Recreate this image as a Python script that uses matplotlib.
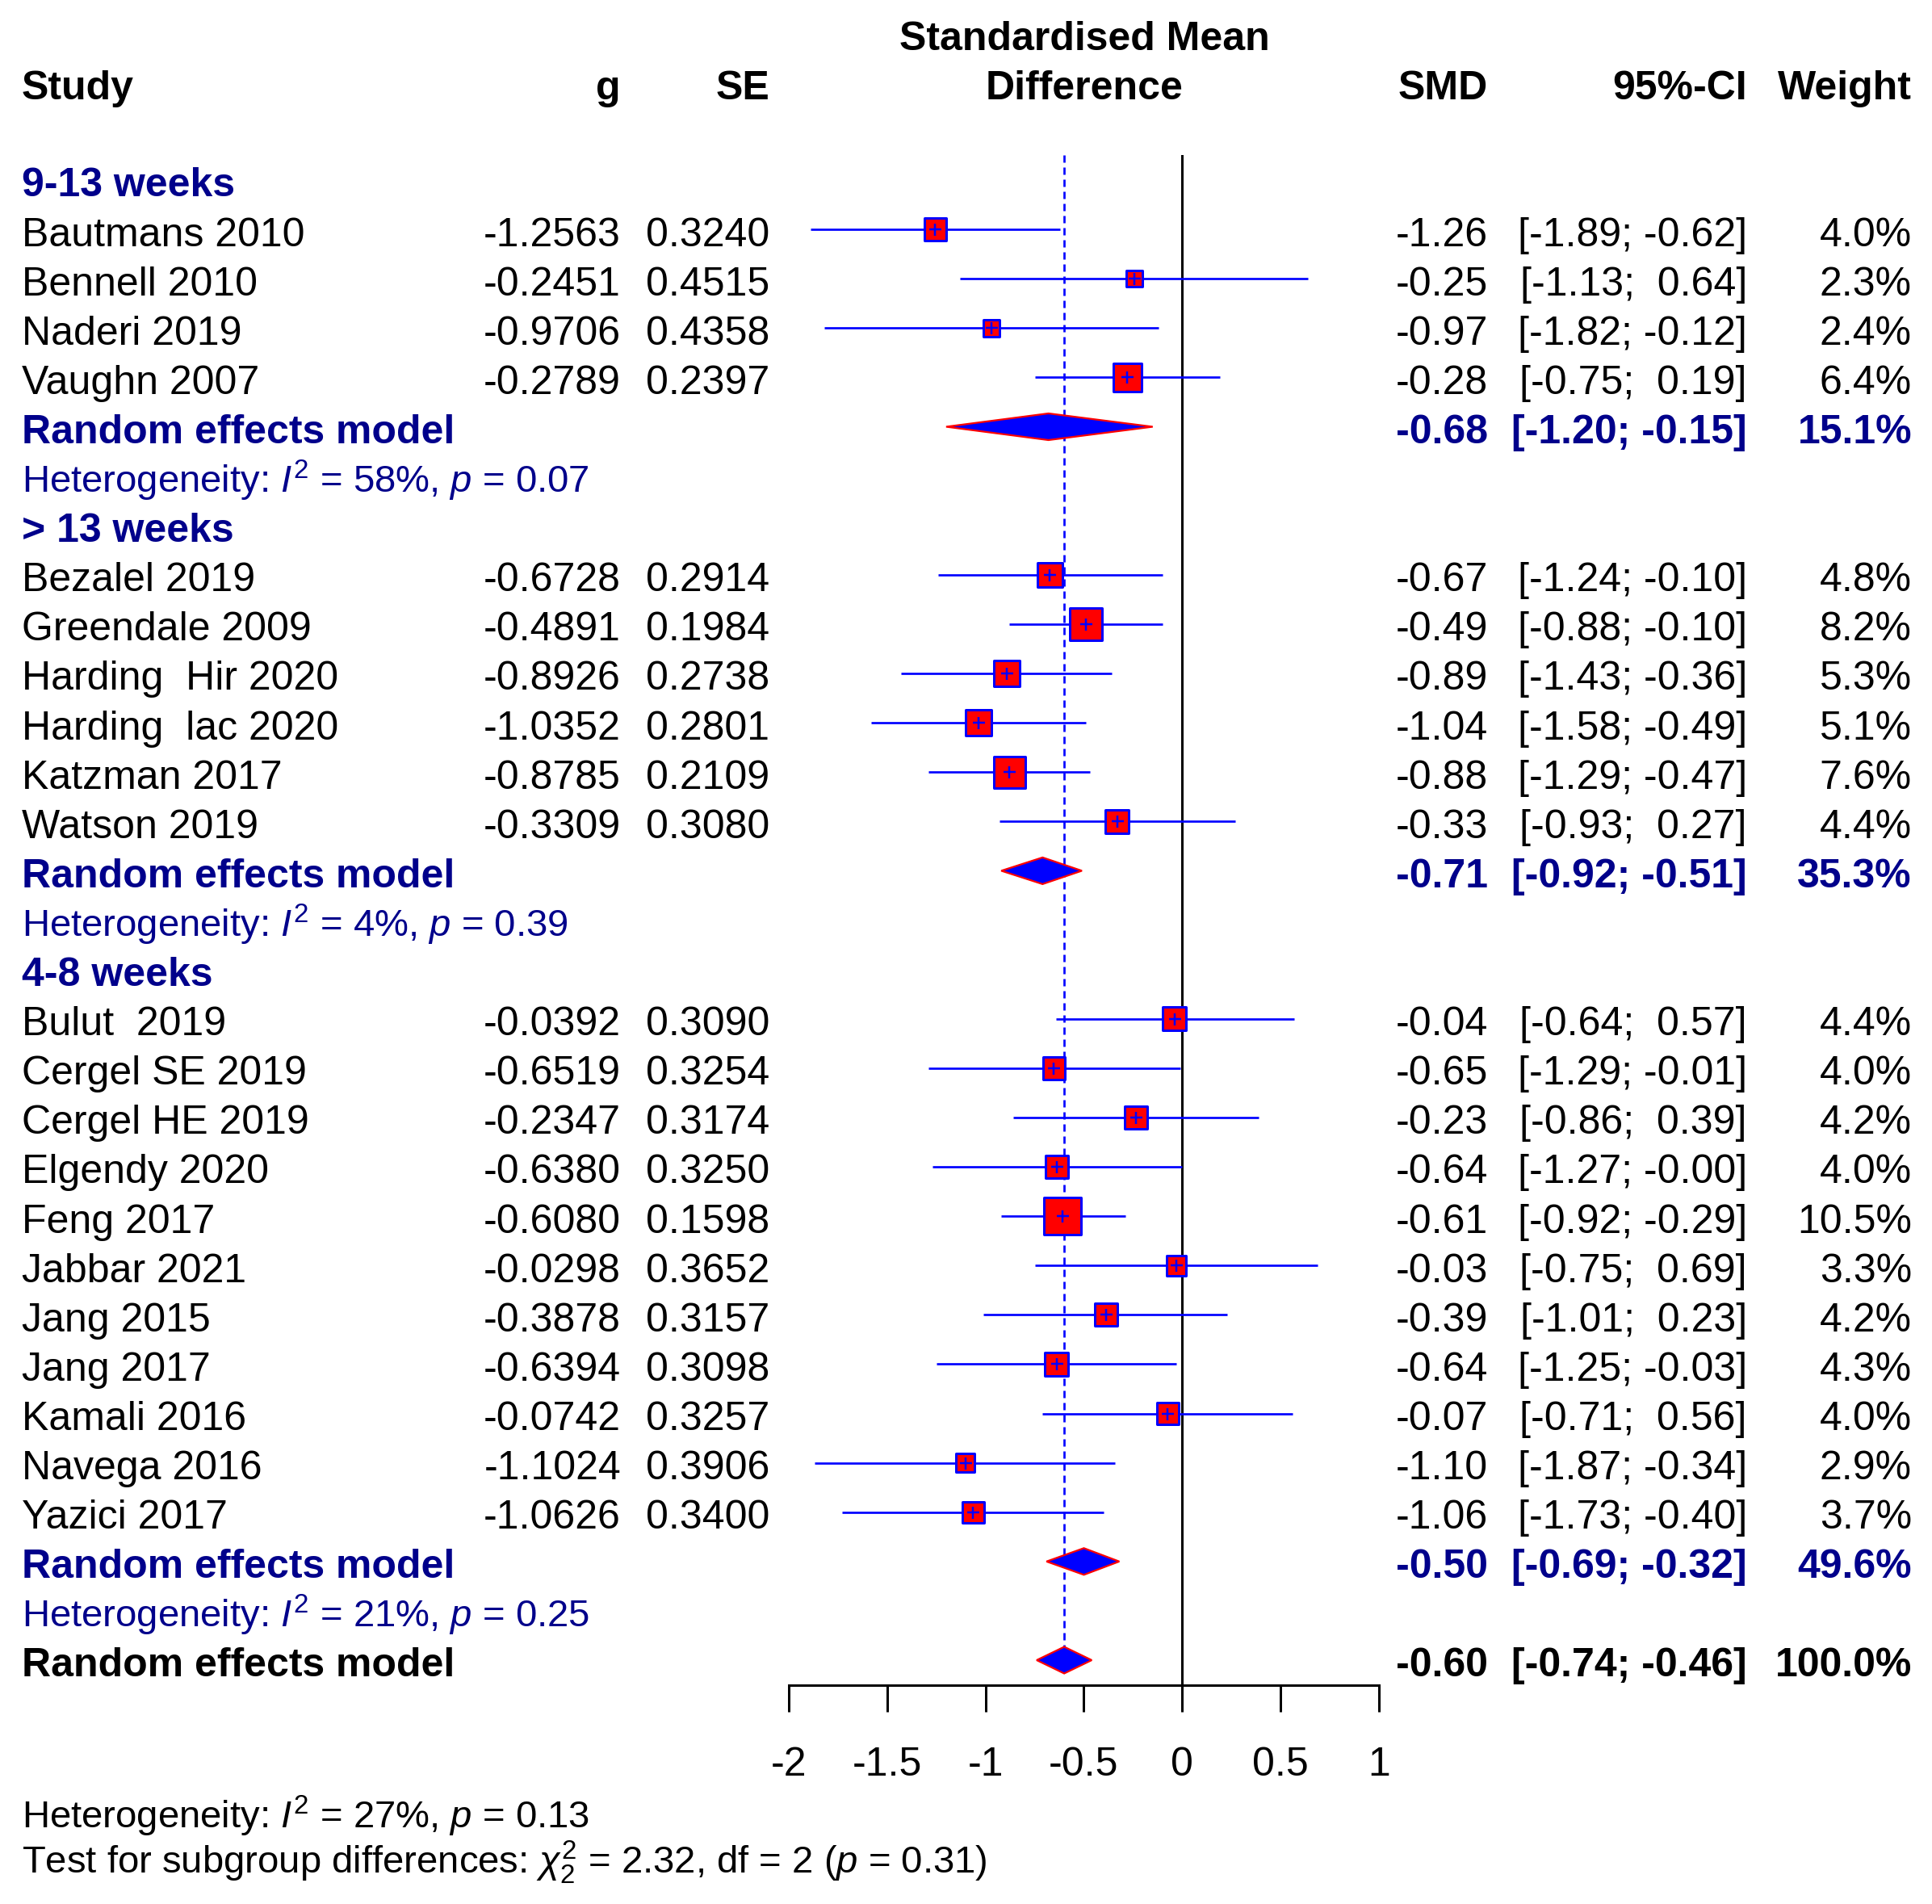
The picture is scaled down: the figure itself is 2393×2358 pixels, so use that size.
import numpy as np
import matplotlib
matplotlib.use("Agg")
import matplotlib.pyplot as plt
import matplotlib.transforms as mtransforms
from matplotlib.patches import Polygon

plt.rcParams['font.family'] = ['Liberation Sans', 'DejaVu Sans']
plt.rcParams['mathtext.fontset'] = 'custom'
plt.rcParams['mathtext.rm'] = 'Liberation Sans'
plt.rcParams['mathtext.it'] = 'Liberation Sans:italic'
plt.rcParams['mathtext.bf'] = 'Liberation Sans:bold'
plt.rcParams['axes.unicode_minus'] = False
plt.rcParams['lines.scale_dashes'] = False

# ---------------- data ----------------
group_labels = ["9-13 weeks", "> 13 weeks", "4-8 weeks"]

g1_study = ["Bautmans 2010", "Bennell 2010", "Naderi 2019", "Vaughn 2007"]
g1_g = [-1.2563, -0.2451, -0.9706, -0.2789]
g1_se = [0.3240, 0.4515, 0.4358, 0.2397]
g1_lo = [-1.89, -1.13, -1.82, -0.75]
g1_hi = [-0.62, 0.64, -0.12, 0.19]
g1_w = [4.0, 2.3, 2.4, 6.4]

g2_study = ["Bezalel 2019", "Greendale 2009", "Harding  Hir 2020", "Harding  lac 2020",
            "Katzman 2017", "Watson 2019"]
g2_g = [-0.6728, -0.4891, -0.8926, -1.0352, -0.8785, -0.3309]
g2_se = [0.2914, 0.1984, 0.2738, 0.2801, 0.2109, 0.3080]
g2_lo = [-1.24, -0.88, -1.43, -1.58, -1.29, -0.93]
g2_hi = [-0.10, -0.10, -0.36, -0.49, -0.47, 0.27]
g2_w = [4.8, 8.2, 5.3, 5.1, 7.6, 4.4]

g3_study = ["Bulut  2019", "Cergel SE 2019", "Cergel HE 2019", "Elgendy 2020", "Feng 2017",
            "Jabbar 2021", "Jang 2015", "Jang 2017", "Kamali 2016", "Navega 2016", "Yazici 2017"]
g3_g = [-0.0392, -0.6519, -0.2347, -0.6380, -0.6080, -0.0298, -0.3878, -0.6394, -0.0742,
        -1.1024, -1.0626]
g3_se = [0.3090, 0.3254, 0.3174, 0.3250, 0.1598, 0.3652, 0.3157, 0.3098, 0.3257, 0.3906, 0.3400]
g3_lo = [-0.64, -1.29, -0.86, -1.27, -0.92, -0.75, -1.01, -1.25, -0.71, -1.87, -1.73]
g3_hi = [0.57, -0.01, 0.39, -0.0, -0.29, 0.69, 0.23, -0.03, 0.56, -0.34, -0.40]
g3_w = [4.4, 4.0, 4.2, 4.0, 10.5, 3.3, 4.2, 4.3, 4.0, 2.9, 3.7]

sub_est = [-0.68, -0.71, -0.50]
sub_lo = [-1.20, -0.92, -0.69]
sub_hi = [-0.15, -0.51, -0.32]
sub_w = [15.1, 35.3, 49.6]
sub_i2 = [58, 4, 21]
sub_p = ["0.07", "0.39", "0.25"]

overall_est = -0.60
overall_lo = -0.74
overall_hi = -0.46
overall_w = 100.0
overall_i2 = 27
overall_p = "0.13"
subgroup_chi2 = "2.32"
subgroup_df = 2
subgroup_p = "0.31"

xticks = [-2, -1.5, -1, -0.5, 0, 0.5, 1]
xtick_labels = ["-2", "-1.5", "-1", "-0.5", "0", "0.5", "1"]

groups = [
    (g1_study, g1_g, g1_se, g1_lo, g1_hi, g1_w),
    (g2_study, g2_g, g2_se, g2_lo, g2_hi, g2_w),
    (g3_study, g3_g, g3_se, g3_lo, g3_hi, g3_w),
]

# ---------------- layout ----------------
W, H = 2393, 2358
DPI = 100
fig = plt.figure(figsize=(W / DPI, H / DPI), dpi=DPI)

ROW0 = 223.0      # pixel y of row 0
DY = 61.1         # pixels per row
def px2row(py):
    return (py - ROW0) / DY

ax_left, ax_right = 977, 1708
ax_top, ax_bot = 192, 2087
ax = fig.add_axes([ax_left / W, 1 - ax_bot / H, (ax_right - ax_left) / W, (ax_bot - ax_top) / H])
ax.set_xlim(-2, 1)
ax.set_ylim(px2row(ax_bot), px2row(ax_top))

FS = 36
FS_HET = 34
NAVY = '#00008B'
BLUE = '#0000FF'
RED = '#FF0000'
PX = 0.72  # points per pixel

trans = mtransforms.blended_transform_factory(fig.transFigure, ax.transData)
BASE = 0.335  # baseline offset in rows

def txt(xpx, row, s, ha='left', color='black', bold=False, size=FS):
    ax.text(xpx / W, row + BASE, s, transform=trans, ha=ha, va='baseline',
            fontsize=size, color=color, fontweight='bold' if bold else 'normal',
            clip_on=False)

X_STUDY, X_G, X_SE, X_SMD, X_CI, X_W = 27, 769, 953, 1843, 2164, 2368
X_MID = 1343

# headers
hdr = px2row(103)
txt(X_STUDY, hdr, "Study", bold=True)
txt(X_G, hdr, "g", ha='right', bold=True)
txt(X_SE, hdr, "SE", ha='right', bold=True)
txt(X_MID, hdr, "Difference", ha='center', bold=True)
txt(X_MID, px2row(42), "Standardised Mean", ha='center', bold=True)
txt(X_SMD, hdr, "SMD", ha='right', bold=True)
txt(X_CI, hdr, "95%-CI", ha='right', bold=True)
txt(X_W, hdr, "Weight", ha='right', bold=True)

def ci_str(lo, hi):
    return "[%5.2f; %5.2f]" % (lo, hi)

HALF = 16.5 / DY  # diamond half height in rows

def diamond(est, lo, hi, row):
    poly = Polygon([(lo, row), (est, row - HALF), (hi, row), (est, row + HALF)],
                   closed=True, facecolor=BLUE, edgecolor=RED, linewidth=1.6, zorder=5)
    ax.add_patch(poly)

row = 0
for gi, (study, g, se, lo, hi, w) in enumerate(groups):
    txt(X_STUDY, row, group_labels[gi], color=NAVY, bold=True)
    row += 1
    rows = np.arange(row, row + len(study))
    ax.hlines(rows, lo, hi, color=BLUE, linewidth=2.7 * PX, zorder=3)
    sides = (15.2 * np.sqrt(np.array(w)) - 3) * PX
    ax.scatter(g, rows, s=sides ** 2, marker='s', facecolor=RED, edgecolor=BLUE,
               linewidth=3 * PX, zorder=4)
    ax.scatter(g, rows, s=(15 * PX) ** 2, marker='+', color=BLUE, linewidth=2.5 * PX, zorder=5)
    for k in range(len(study)):
        r = rows[k]
        txt(X_STUDY, r, study[k])
        txt(X_G, r, "%.4f" % g[k], ha='right')
        txt(X_SE, r, "%.4f" % se[k], ha='right')
        txt(X_SMD, r, "%.2f" % g[k], ha='right')
        txt(X_CI, r, ci_str(lo[k], hi[k]), ha='right')
        txt(X_W, r, "%.1f%%" % w[k], ha='right')
    row += len(study)
    # subgroup random effects
    txt(X_STUDY, row, "Random effects model", color=NAVY, bold=True)
    txt(X_SMD, row, "%.2f" % sub_est[gi], ha='right', color=NAVY, bold=True)
    txt(X_CI, row, ci_str(sub_lo[gi], sub_hi[gi]), ha='right', color=NAVY, bold=True)
    txt(X_W, row, "%.1f%%" % sub_w[gi], ha='right', color=NAVY, bold=True)
    diamond(sub_est[gi], sub_lo[gi], sub_hi[gi], row)
    row += 1
    txt(X_STUDY, row, r"Heterogeneity: $\mathit{I}^{2}$ = %d%%, $\mathit{p}$ = %s" % (sub_i2[gi], sub_p[gi]),
        color=NAVY, size=FS_HET)
    row += 1

# overall
txt(X_STUDY, row, "Random effects model", bold=True)
txt(X_SMD, row, "%.2f" % overall_est, ha='right', bold=True)
txt(X_CI, row, ci_str(overall_lo, overall_hi), ha='right', bold=True)
txt(X_W, row, "%.1f%%" % overall_w, ha='right', bold=True)
diamond(overall_est, overall_lo, overall_hi, row)

# reference lines
ax.axvline(0, color='black', linewidth=3 * PX, zorder=2)
ref = ax.vlines(overall_est, px2row(ax_top), row - HALF, color=BLUE, linewidth=2.7 * PX, zorder=2)
ref.set_linestyle((0, (9 * PX, 6 * PX)))

# axis
for s in ['top', 'left', 'right']:
    ax.spines[s].set_visible(False)
ax.spines['bottom'].set_linewidth(3 * PX)
ax.set_yticks([])
ax.set_xticks(xticks)
ax.set_xticklabels(xtick_labels, fontsize=FS)
ax.tick_params(axis='x', direction='out', length=33 * PX, width=3 * PX, pad=31)
ax.patch.set_visible(False)

# bottom text
fig.text(X_STUDY / W, 1 - (2245 + 19) / H,
         r"Heterogeneity: $\mathit{I}^{2}$ = %d%%, $\mathit{p}$ = %s" % (overall_i2, overall_p),
         fontsize=FS_HET, ha='left', va='baseline')
fig.text(X_STUDY / W, 1 - (2301 + 19) / H,
         r"Test for subgroup differences: $\chi^{2}_{%d}$ = %s, df = %d ($\mathit{p}$ = %s)"
         % (subgroup_df, subgroup_chi2, subgroup_df, subgroup_p),
         fontsize=FS_HET, ha='left', va='baseline')

fig.savefig("out.png", dpi=DPI, facecolor='white')
